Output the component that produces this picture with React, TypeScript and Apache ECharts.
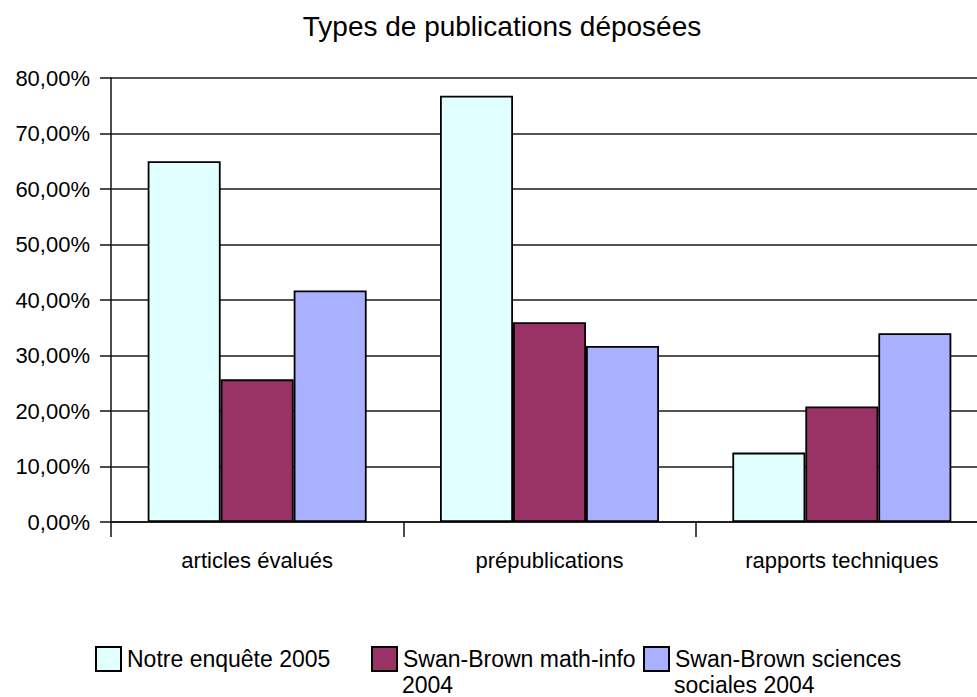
import React, { useEffect, useRef } from "react";
import * as echarts from "echarts";

const categories = ["articles évalués", "prépublications", "rapports techniques"];
const seriesNames = ["Notre enquête 2005", "Swan-Brown math-info 2004", "Swan-Brown sciences sociales 2004"];
const notreEnquete = [65.0, 76.8, 12.5];
const swanMathInfo = [25.7, 36.0, 20.8];
const swanSciencesSociales = [41.7, 31.7, 34.0];
const colors = ["#E0FFFF", "#993366", "#A8B0FF"];
const legendFirstLines = ["Notre enquête 2005", "Swan-Brown math-info", "Swan-Brown sciences"];
const legendSecondLines = ["", "2004", "sociales 2004"];

const FONT = "'Liberation Sans', Arial, Helvetica, sans-serif";

export default function App() {
  const ref = useRef<HTMLDivElement>(null);
  useEffect(() => {
    if (!ref.current) return;
    const chart = echarts.init(ref.current, null, { renderer: "svg" });
    const values = [notreEnquete, swanMathInfo, swanSciencesSociales];
    const legendLefts = [95, 371, 643];
    chart.setOption({
      animation: false,
      backgroundColor: "#ffffff",
      textStyle: { fontFamily: FONT, color: "#000" },
      title: {
        text: "Types de publications déposées",
        left: 497,
        textAlign: "center",
        top: 7,
        textStyle: { fontFamily: FONT, fontSize: 28, fontWeight: "normal", color: "#000" },
      },
      legend: seriesNames.map((name, i) => ({
        data: [name],
        left: legendLefts[i],
        top: 646,
        padding: 0,
        itemWidth: 25,
        itemHeight: 24,
        itemGap: 0,
        icon: "rect",
        selectedMode: false,
        formatter: () => legendFirstLines[i],
        textStyle: { fontFamily: FONT, fontSize: 23, color: "#000", padding: [0, 0, 0, 1] },
      })),
      graphic: legendSecondLines
        .map((t, i) =>
          t
            ? {
                type: "text",
                left: legendLefts[i] + 31,
                top: 673,
                style: { text: t, font: `23px ${FONT}`, fill: "#000" },
              }
            : null
        )
        .filter(Boolean),
      grid: { left: 111, top: 78, right: 0, bottom: 175, containLabel: false },
      xAxis: {
        type: "category",
        data: categories,
        boundaryGap: true,
        axisLine: { show: true, lineStyle: { color: "#111", width: 1.5 } },
        axisTick: { show: true, length: 15, alignWithLabel: false, lineStyle: { color: "#111", width: 1.5 } },
        axisLabel: { margin: 27, fontFamily: FONT, fontSize: 22, color: "#000" },
        splitLine: { show: false },
      },
      yAxis: {
        type: "value",
        min: 0,
        max: 80,
        interval: 10,
        axisLine: { show: true, lineStyle: { color: "#111", width: 1.5 } },
        axisTick: { show: true, length: 11, lineStyle: { color: "#111", width: 1.5 } },
        axisLabel: {
          margin: 21,
          fontFamily: FONT,
          fontSize: 22,
          color: "#000",
          formatter: (v: number) => v.toFixed(2).replace(".", ",") + "%",
        },
        splitLine: { show: true, lineStyle: { color: "#1a1a1a", width: 1.5 } },
      },
      series: seriesNames.map((name, i) => ({
        name,
        type: "bar",
        data: values[i],
        barWidth: 73,
        barGap: "0%",
        itemStyle: { color: colors[i], borderColor: "#000", borderWidth: 1.8 },
      })),
    });
    return () => chart.dispose();
  }, []);
  return (
    <div style={{ position: "absolute", left: 0, top: 0, width: 977, height: 697, overflow: "hidden" }}>
      <div ref={ref} style={{ position: "absolute", left: 0, top: 0, width: 988, height: 697 }} />
    </div>
  );
}
